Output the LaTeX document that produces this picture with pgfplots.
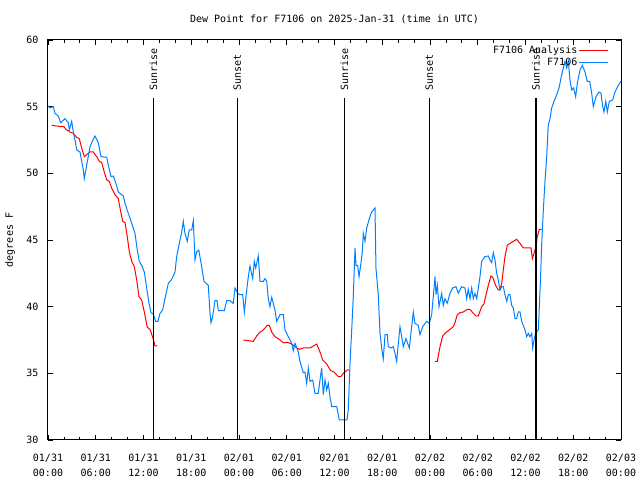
\documentclass[border=0pt]{standalone}
\usepackage{fontspec}
\setmainfont{DejaVu Sans Mono}
\usepackage{pgfplots}
\pgfplotsset{compat=1.18}
\definecolor{obsblue}{RGB}{0,128,255}
\definecolor{anred}{RGB}{255,0,0}
\begin{document}
\begin{tikzpicture}[font=\fontsize{10bp}{12bp}\selectfont]
\begin{axis}[
  at={(0,0)}, anchor=south west,
  scale only axis, width=573bp, height=400bp,
  xmin=0, xmax=72, ymin=30, ymax=60,
  axis line style={line width=1bp},
  every tick/.style={black, line width=0.8bp},
  major tick length=5bp, minor tick length=3bp,
  xtick={0,6,...,72},
  xticklabels={{01/31\\00:00},{01/31\\06:00},{01/31\\12:00},{01/31\\18:00},{02/01\\00:00},{02/01\\06:00},{02/01\\12:00},{02/01\\18:00},{02/02\\00:00},{02/02\\06:00},{02/02\\12:00},{02/02\\18:00},{02/03\\00:00}},
  xticklabel style={align=center, font=\fontsize{10bp}{15bp}\selectfont, yshift=-11bp},
  minor x tick num=2,
  ytick={30,35,...,60},
  yticklabel style={xshift=-6bp},
  /pgf/number format/assume math mode=true,
  title={Dew Point for F7106 on 2025-Jan-31 (time in UTC)},
  title style={at={(0.5,1)}, anchor=south, yshift=7bp},
  ylabel={degrees F},
  ylabel style={at={(axis description cs:-0.066,0.5)}, anchor=center, rotate=0},
  legend style={at={(1,1)}, anchor=north east, draw=none, fill=none, xshift=-9bp, yshift=-2bp,
    nodes={inner sep=1.5bp, text height=7.5bp, text depth=2bp}, row sep=0bp},
  legend plot pos=right,
  legend cell align=right,
  legend image code/.code={\draw[#1] (0bp,0bp) -- (29bp,0bp);},
]
\addplot[anred, line width=1bp, unbounded coords=jump] coordinates {
(0.46,53.6) (1.72,53.5) (2.01,53.5) (2.26,53.3) (2.76,53.1) (3.18,53.0) (3.61,52.7) (3.93,52.6)
(4.23,51.9) (4.56,51.25) (4.86,51.4) (5.28,51.6) (5.69,51.6) (6.12,51.25) (6.45,50.9) (6.75,50.8)
(7.07,50.1) (7.38,49.5) (7.70,49.4) (8.00,48.9) (8.42,48.4) (8.83,48.1) (9.05,47.4) (9.39,46.4)
(9.68,46.3) (9.96,45.25) (10.22,44.1) (10.52,43.4) (10.84,43.0) (11.15,42.0) (11.43,40.75) (11.77,40.5)
(12.10,39.6) (12.48,38.45) (12.82,38.3) (13.16,37.7) (13.45,37.05) (13.73,37.05)
(14,nan)
(24.54,37.5) (25.80,37.4) (26.22,37.8) (26.55,38.05) (27.05,38.25) (27.56,38.6) (27.81,38.6) (28.11,38.1)
(28.52,37.75) (28.94,37.6) (29.57,37.3) (30.19,37.3) (30.62,37.2) (31.04,37.0) (31.58,36.8) (32.08,36.9)
(32.92,36.9) (33.34,37.05) (33.76,37.2) (34.18,36.6) (34.52,36.0) (35.02,35.7) (35.52,35.2) (35.94,35.1)
(36.48,34.75) (36.79,34.75) (37.19,35.05) (37.61,35.25) (37.82,35.25)
(38,nan)
(48.63,35.9) (48.92,35.9) (49.26,37.0) (49.59,37.8) (49.88,38.0) (50.42,38.25) (50.93,38.5) (51.14,38.8)
(51.43,39.4) (51.77,39.55) (52.18,39.6) (52.69,39.8) (53.02,39.8) (53.44,39.5) (53.78,39.3) (54.07,39.3)
(54.49,40.0) (54.78,40.2) (55.00,40.8) (55.33,41.6) (55.66,42.3) (55.88,42.2) (56.25,41.6) (56.58,41.25)
(56.79,41.25) (57.01,41.75) (57.21,42.75) (57.42,43.75) (57.71,44.6) (58.05,44.75) (58.47,44.9) (58.89,45.05)
(59.31,44.75) (59.72,44.4) (60.69,44.4) (60.86,43.6) (61.07,44.0) (61.32,44.5) (61.48,45.25) (61.74,45.8)
(62.04,45.8)
};
\addlegendentry{F7106 Analysis}
\addplot[obsblue, line width=1bp] coordinates {
(0,55.07) (0.25,54.9) (0.67,55.0) (0.88,54.5) (1.29,54.3) (1.60,53.8) (2.14,54.1) (2.55,53.8)
(2.68,53.25) (2.98,53.9) (3.18,53.1) (3.39,52.5) (3.61,51.75) (4.02,51.6) (4.44,50.25) (4.56,49.6)
(4.86,50.6) (5.28,52.0) (5.49,52.3) (5.91,52.8) (6.32,52.3) (6.66,51.25) (7.38,51.2) (7.58,50.6)
(7.92,49.75) (8.20,49.8) (8.54,49.25) (8.83,48.6) (9.46,48.3) (9.68,47.75) (10.09,47.0) (10.52,46.25)
(10.93,45.5) (11.22,44.25) (11.47,43.4) (11.77,43.1) (12.10,42.6) (12.40,41.4) (12.69,40.25) (12.94,39.55)
(13.23,39.45) (13.53,38.9) (13.82,38.9) (14.07,39.5) (14.41,39.75) (14.70,40.6) (15.12,41.75) (15.54,42.05)
(15.96,42.6) (16.17,43.75) (16.50,44.75) (16.80,45.6) (17.00,46.4) (17.21,45.5) (17.50,44.9) (17.75,45.75)
(18.06,45.75) (18.26,46.45) (18.47,43.5) (18.68,44.1) (18.94,44.25) (19.31,43.0) (19.60,41.9) (20.14,41.6)
(20.36,39.5) (20.48,38.8) (20.69,39.25) (20.98,40.45) (21.24,40.45) (21.40,39.7) (22.15,39.7) (22.45,40.45)
(22.87,40.45) (23.28,40.25) (23.50,41.4) (23.91,40.95) (24.12,40.9) (24.46,40.9) (24.67,39.6) (24.97,41.25)
(25.17,42.25) (25.38,43.05) (25.72,42.1) (25.92,43.4) (26.10,42.9) (26.42,43.8) (26.64,41.9) (27.05,41.9)
(27.27,42.1) (27.48,41.9) (27.68,40.6) (27.89,40.0) (28.11,40.7) (28.52,39.75) (28.74,38.9) (29.15,39.4)
(29.57,39.4) (29.78,38.25) (30.19,37.75) (30.62,37.25) (30.82,36.7) (31.04,37.25) (31.45,36.6) (31.66,35.9)
(32.08,35.05) (32.29,35.1) (32.51,34.25) (32.71,35.4) (32.92,34.4) (33.26,34.5) (33.55,33.5) (33.96,33.5)
(34.18,34.5) (34.39,35.4) (34.59,33.4) (34.81,34.5) (35.02,33.75) (35.22,34.25) (35.43,33.25) (35.65,32.5)
(36.28,32.5) (36.60,31.5) (37.19,31.5) (37.57,31.5) (37.73,32.25) (37.95,35.75) (38.16,38.25) (38.36,40.75)
(38.58,44.4) (38.70,43.1) (38.91,43.1) (39.08,42.25) (39.29,43.1) (39.49,44.1) (39.62,45.5) (39.83,44.9)
(40.05,45.9) (40.37,46.6) (40.67,47.1) (41.09,47.4) (41.21,42.9) (41.50,40.9) (41.72,38.0) (41.93,36.9)
(42.13,36.1) (42.35,37.9) (42.63,37.9) (42.76,37.0) (43.10,36.9) (43.39,37.0) (43.60,36.5) (43.81,35.9)
(44.02,37.25) (44.23,38.5) (44.44,37.75) (44.64,37.0) (44.98,37.6) (45.40,36.9) (45.70,38.5) (45.90,39.6)
(46.11,38.75) (46.53,38.6) (46.74,37.9) (47.08,38.5) (47.58,38.9) (47.91,38.75) (48.21,39.4) (48.41,40.75)
(48.63,42.25) (48.75,40.9) (48.92,41.6) (49.13,40.0) (49.47,41.0) (49.67,40.1) (49.88,40.6) (50.17,40.25)
(50.51,41.0) (50.85,41.4) (51.27,41.5) (51.55,41.0) (51.98,41.5) (52.40,41.4) (52.61,40.6) (52.81,41.3)
(53.02,40.6) (53.24,41.4) (53.44,40.6) (53.65,41.0) (53.87,40.6) (54.07,41.4) (54.28,42.25) (54.49,43.4)
(54.91,43.75) (55.33,43.8) (55.54,43.5) (55.75,43.3) (55.95,44.05) (56.17,43.5) (56.38,42.5) (56.58,42.0)
(56.79,41.25) (57.01,41.5) (57.21,41.5) (57.42,40.9) (57.64,40.4) (57.84,40.9) (58.05,40.9) (58.26,40.1)
(58.47,39.9) (58.68,39.1) (58.89,39.1) (59.09,39.6) (59.31,39.6) (59.52,38.9) (59.72,38.6) (59.94,38.25)
(60.15,37.75) (60.35,38.0) (60.56,37.75) (60.78,38.0) (60.90,36.9) (61.07,37.5) (61.32,38.1) (61.61,38.25)
(61.74,40.0) (61.91,42.5) (62.04,44.75) (62.24,47.25) (62.45,49.4) (62.66,51.25) (62.86,53.6) (63.08,54.1)
(63.29,54.9) (63.58,55.4) (63.92,55.9) (64.21,56.4) (64.55,57.4) (64.75,57.9) (64.96,58.4) (65.18,57.9)
(65.38,58.4) (65.59,57.0) (65.80,56.25) (66.05,56.4) (66.30,55.75) (66.51,56.75) (66.85,57.75) (67.14,58.1)
(67.48,57.6) (67.76,56.9) (68.07,56.9) (68.32,56.0) (68.52,55.0) (68.86,55.75) (69.24,56.1) (69.49,56.0)
(69.70,55.0) (69.86,54.6) (70.08,55.4) (70.28,54.6) (70.53,55.4) (70.95,55.5) (71.24,56.1) (71.66,56.6)
(72.0,56.9)
};
\addlegendentry{F7106}
\addplot[black, line width=1.2bp, forget plot] coordinates {(13.23,30) (13.23,55.65)};
\addplot[black, line width=1.2bp, forget plot] coordinates {(23.78,30) (23.78,55.65)};
\addplot[black, line width=1.2bp, forget plot] coordinates {(37.23,30) (37.23,55.65)};
\addplot[black, line width=1.2bp, forget plot] coordinates {(47.91,30) (47.91,55.65)};
\addplot[black, line width=1.2bp, forget plot] coordinates {(61.32,30) (61.32,55.65)};
\node[rotate=90, anchor=west, inner sep=0pt] at (axis cs:13.23,56.18) {Sunrise};
\node[rotate=90, anchor=west, inner sep=0pt] at (axis cs:23.78,56.18) {Sunset};
\node[rotate=90, anchor=west, inner sep=0pt] at (axis cs:37.23,56.18) {Sunrise};
\node[rotate=90, anchor=west, inner sep=0pt] at (axis cs:47.91,56.18) {Sunset};
\node[rotate=90, anchor=west, inner sep=0pt] at (axis cs:61.32,56.18) {Sunrise};
\end{axis}
\pgfresetboundingbox
\path (-48bp,-40bp) rectangle (592bp,440bp);
\end{tikzpicture}
\end{document}
